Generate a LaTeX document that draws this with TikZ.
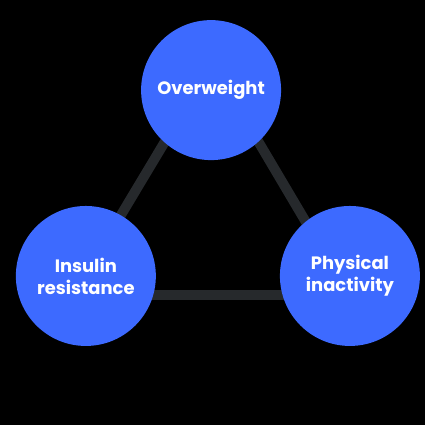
\documentclass[tikz,border=0pt]{standalone}
\usepackage{fontspec}
\setmainfont{Poppins}
\definecolor{riskblue}{RGB}{61,106,255}
\definecolor{linkgray}{RGB}{38,41,44}
\begin{document}
\begin{tikzpicture}[
        risk/.style={circle, fill=riskblue, minimum size=4.94cm, inner sep=0pt,
            text=white, align=center, font=\bfseries\fontsize{18}{22}\selectfont},
        link/.style={line width=0.35cm, draw=linkgray}
    ]
            \fill[black] (0, 0) rectangle (15, 15);
            \coordinate (tri-top) at (7.48, 12.77);
            \coordinate (tri-left) at (2.58, 4.59);
            \coordinate (tri-right) at (12.32, 4.59);
            \draw[link] (tri-left) -- (tri-right);
            \draw[link] (tri-left) -- (tri-top);
            \draw[link] (tri-right) -- (tri-top);
            \node[risk] (overweight) at (7.45, 11.82) {Overweight};
            \node[risk] (insulin) at (3.03, 5.26) {Insulin\\resistance};
            \node[risk] (inactivity) at (12.35, 5.26) {Physical\\inactivity};
        \end{tikzpicture}
\end{document}
